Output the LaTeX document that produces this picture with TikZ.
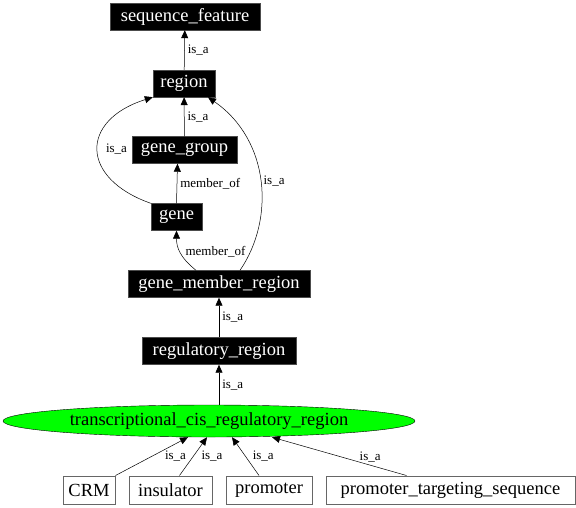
\documentclass[tikz,border=0pt]{standalone}
\usepackage{fontspec}
\setmainfont{Liberation Serif}
\usetikzlibrary{calc,shapes.geometric,arrows.meta}
\begin{document}
\begin{tikzpicture}[x=1pt,y=1pt,
    blackbox/.style={rectangle,fill=black,draw=black!70,text=white,minimum height=27pt,inner sep=0pt,font=\fontsize{18.5}{21}\selectfont},
    whitebox/.style={rectangle,fill=white,draw=black!60,line width=1pt,minimum height=28pt,inner sep=0pt,font=\fontsize{18.5}{21}\selectfont},
    greenell/.style={ellipse,fill=green,draw=black,inner sep=0pt,minimum width=412pt,minimum height=32pt,font=\fontsize{18.5}{21}\selectfont},
    edge/.style={-{Triangle[length=8pt,width=7pt]},line width=0.5pt},
    lbl/.style={font=\fontsize{13}{15}\selectfont,inner sep=3pt}]
\useasboundingbox (0,0) rectangle (576,-507);

% nodes
\node[blackbox,minimum width=150pt] (seqf) at (185,-16.5) {sequence\_feature};
\node[blackbox,minimum width=62pt] (region) at (184,-83.5) {region};
\node[blackbox,minimum width=105pt] (ggroup) at (184.5,-150) {gene\_group};
\node[blackbox,minimum width=51pt] (gene) at (176.5,-217) {gene};
\node[blackbox,minimum width=182pt] (gmr) at (219,-284) {gene\_member\_region};
\node[blackbox,minimum width=154pt] (regreg) at (219,-351) {regulatory\_region};
\node[greenell] (tcrr) at (209,-421) {transcriptional\_cis\_regulatory\_region};
\node[whitebox,minimum width=52pt] (crm) at (89,-490) {CRM};
\node[whitebox,minimum width=83pt] (ins) at (170.5,-490) {insulator};
\node[whitebox,minimum width=86pt] (prom) at (269,-490) {promoter};
\node[whitebox,minimum width=249pt] (pts) at (450.5,-490) {promoter\_targeting\_sequence};

% is_a / member_of edges
\draw[edge] (region) -- (seqf) node[lbl,midway,anchor=west] {is\_a};
\draw[edge] (ggroup) -- (region) node[lbl,midway,anchor=west] {is\_a};
\draw[edge] (gene.north west) .. controls +(-71,25) and +(-73,-23) .. (region.south west) node[lbl,pos=0.5,anchor=west,xshift=5pt] {is\_a};
\draw[edge] (gene.north) -- ($(ggroup.south)+(-7,0)$) node[lbl,midway,anchor=west] {member\_of};
\draw[edge] ($(gmr.north)+(-23,0)$) .. controls +(-16,13) and +(0,-17) .. (gene.south) node[lbl,pos=0.5,anchor=west,xshift=2pt] {member\_of};
\draw[edge] ($(gmr.north)+(21,0)$) .. controls +(35,51) and +(62,-43) .. ($(region.south)+(24,0)$) node[lbl,pos=0.5,anchor=west] {is\_a};
\draw[edge] (regreg) -- (gmr) node[lbl,midway,anchor=west] {is\_a};
\draw[edge] ($(tcrr.north)+(10,0)$) -- (regreg) node[lbl,midway,anchor=west] {is\_a};
\draw[edge] (crm.north east) -- ($(tcrr.south)+(-21,0)$) node[lbl,midway,anchor=west,xshift=10pt] {is\_a};
\draw[edge] ($(ins.north)+(9,0)$) -- ($(tcrr.south)+(-2,0)$) node[lbl,midway,anchor=west,xshift=5pt] {is\_a};
\draw[edge] ($(prom.north)+(-10,0)$) -- ($(tcrr.south)+(23,0)$) node[lbl,midway,anchor=west,xshift=4pt] {is\_a};
\draw[edge] ($(pts.north)+(-44,0)$) -- ($(tcrr.south)+(63,0)$) node[lbl,pos=0.27,anchor=south] {is\_a};
\end{tikzpicture}
\end{document}
